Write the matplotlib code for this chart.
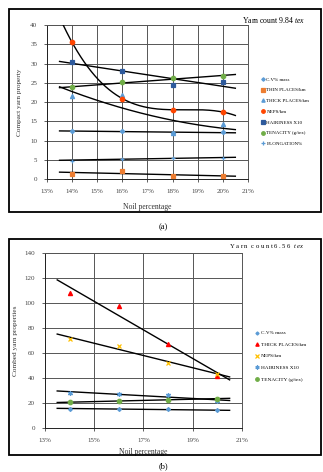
import numpy as np
import matplotlib
matplotlib.use('Agg')
import matplotlib.pyplot as plt
from matplotlib.patches import Rectangle
from matplotlib.ticker import FuncFormatter, MultipleLocator

plt.rcParams['font.family'] = ['Liberation Serif', 'DejaVu Serif']
plt.rcParams['mathtext.fontset'] = 'custom'
plt.rcParams['mathtext.rm'] = 'Liberation Serif'
plt.rcParams['mathtext.it'] = 'Liberation Serif:italic'

# noil percentage (both charts)
noil = [14, 16, 18, 20]

# (a) compact yarn, 9.84 tex
a_cv = [12.4, 12.5, 12.0, 12.1]
a_thin = [1.4, 2.0, 0.8, 0.8]
a_thick = [21.6, 21.8, 11.9, 14.3]
a_neps = [35.5, 20.9, 18.0, 17.4]
a_hair = [30.5, 28.2, 24.5, 25.1]
a_ten = [23.8, 25.1, 26.2, 26.7]
a_elong = [4.8, 5.3, 5.4, 5.5]

# (b) combed yarn, 6.56 tex
b_cv = [15.5, 15.2, 14.9, 14.1]
b_thick = [107.7, 97.3, 67.2, 41.6]
b_neps = [71.0, 65.9, 52.0, 43.0]
b_hair = [28.3, 27.2, 26.4, 21.3]
b_ten = [20.5, 21.9, 22.4, 23.5]

# (label, values, marker, colour, size, trend order)
series_a = [
    ('C.V% mass', a_cv, 'D', '#5B9BD5', 2.2, 1),
    ('THIN PLACES/km', a_thin, 's', '#ED7D31', 3.0, 1),
    ('THICK PLACES/km', a_thick, '^', '#5B9BD5', 3.0, 2),
    ('NEPS/km', a_neps, 'o', '#FF4500', 3.2, 3),
    ('HAIRINESS X10', a_hair, 's', '#2E5A9C', 3.2, 1),
    ('TENACITY (g/tex)', a_ten, 'o', '#70AD47', 3.2, 1),
    ('ELONGATION%', a_elong, '+', '#5B9BD5', 3.2, 1),
]
series_b = [
    ('C.V% mass', b_cv, 'D', '#5B9BD5', 2.0, 1),
    ('THICK PLACES/km', b_thick, '^', '#FF0000', 3.0, 1),
    ('NEPS/km', b_neps, 'x', '#FFC000', 3.2, 1),
    ('HAIRINESS X10', b_hair, (6, 2, 0), '#5B9BD5', 3.6, 1),
    ('TENACITY (g/tex)', b_ten, 'o', '#70AD47', 3.2, 1),
]


def pct(v, pos):
    return '%d%%' % round(v)


def draw_panel(ax, series, ymax, ystep, xstep):
    xfit = np.linspace(13.5, 20.5, 200)
    handles = []
    for label, vals, mk, col, ms, order in series:
        # Excel-style trend line fitted to the points
        coef = np.polyfit(noil, vals, order)
        ax.plot(xfit, np.polyval(coef, xfit), color='black', lw=1.0, zorder=3)
        h, = ax.plot(noil, vals, ls='none', marker=mk, color=col, ms=ms,
                     mew=0.9, label=label, zorder=4)
        handles.append(h)
    ax.set_xlim(13, 21)
    ax.set_ylim(0, ymax)
    ax.set_xticks(np.arange(13, 21.01, xstep))
    ax.yaxis.set_major_locator(MultipleLocator(ystep))
    ax.xaxis.set_major_formatter(FuncFormatter(pct))
    ax.grid(True, color='#555555', lw=0.7)
    ax.set_axisbelow(True)
    for s in ax.spines.values():
        s.set_color('#555555')
        s.set_linewidth(0.7)
    ax.spines['left'].set_color('#222222')
    ax.spines['bottom'].set_color('#222222')
    ax.tick_params(labelsize=5, colors='#444444', length=2, width=0.6, pad=5)
    return handles


fig = plt.figure(figsize=(3.23, 4.72), dpi=100)

# outer frames
for y0, h in [(0.551, 0.430), (0.036, 0.458)]:
    fig.add_artist(Rectangle((0.028, y0), 0.966, h, transform=fig.transFigure,
                             fill=False, edgecolor='black', lw=1.3))

ax1 = fig.add_axes([0.1455, 0.6208, 0.622, 0.326])
h1 = draw_panel(ax1, series_a, 40, 5, 1)
ax1.set_ylabel('Compact yarn property', fontsize=5.2, color='#333333', labelpad=6)
ax1.set_xlabel('Noil percentage', fontsize=5.5, color='#333333', labelpad=7)
fig.text(0.944, 0.958, r'Yarn count 9.84 $\mathit{tex}$', ha='right', va='center',
         fontsize=5.6)
fig.legend(handles=h1, loc='upper left', bbox_to_anchor=(0.8, 0.842),
           frameon=False, fontsize=3.6, handlelength=0.8, handletextpad=0.3,
           labelspacing=1.25, borderpad=0, markerscale=0.8)
fig.text(0.505, 0.519, '(a)', ha='center', va='center', fontsize=6)

ax2 = fig.add_axes([0.139, 0.0932, 0.61, 0.371])
h2 = draw_panel(ax2, series_b, 140, 20, 2)
ax2.set_ylabel('Combed yarn properties', fontsize=5.2, color='#333333', labelpad=5)
ax2.set_xlabel('Noil percentage', fontsize=5.5, color='#333333', labelpad=4)
fig.text(0.944, 0.479, r'Y a r n  c o u n t 6 . 5 6  $\mathit{t\,e\,x}$', ha='right',
         va='center', fontsize=4.8)
fig.legend(handles=h2, loc='upper left', bbox_to_anchor=(0.782, 0.305),
           frameon=False, fontsize=3.8, handlelength=0.8, handletextpad=0.3,
           labelspacing=1.3, borderpad=0, markerscale=0.8)
fig.text(0.505, 0.013, '(b)', ha='center', va='center', fontsize=6)

fig.savefig('out.png', dpi=100)
